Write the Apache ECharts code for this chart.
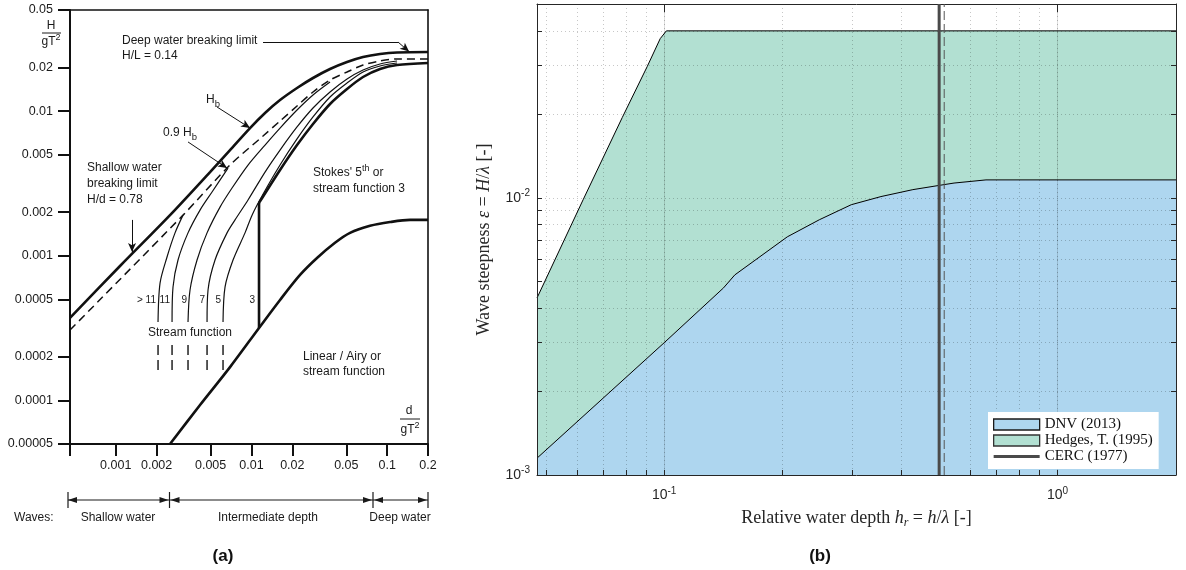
<!DOCTYPE html>
<html><head><meta charset="utf-8">
<script src="https://cdn.jsdelivr.net/npm/echarts@6/dist/echarts.min.js"></script>
<style>html,body{margin:0;padding:0;background:#fff}#c{width:1186px;height:570px}</style>
</head><body><div id="c"></div>
<script>
// ---------- Panel (a) : ticks ----------
const aXTicks  = [0.000461, 0.001, 0.002, 0.005, 0.01, 0.02, 0.05, 0.1, 0.2];
const aXLabels = [0.001, 0.002, 0.005, 0.01, 0.02, 0.05, 0.1, 0.2];
const aYTicks  = [0.00005, 0.0001, 0.0002, 0.0005, 0.001, 0.002, 0.005, 0.01, 0.02, 0.05];

// ---------- Panel (a) : curves (d/gT^2 , H/gT^2) ----------
const hbX  = [0.00046, 0.001075, 0.002511, 0.004951, 0.006951, 0.009761, 0.01259, 0.01624, 0.02167, 0.02842, 0.03793, 0.05062, 0.06642, 0.0886, 0.1183, 0.2];
const hbY  = [0.000372, 0.00085, 0.00191, 0.00379, 0.00538, 0.00764, 0.00971, 0.01193, 0.01445, 0.01694, 0.01955, 0.02185, 0.02366, 0.02482, 0.02542, 0.02563];
const hb9X = [0.00046, 0.003131, 0.006951, 0.01217, 0.01624, 0.02167, 0.02842, 0.03793, 0.05062, 0.06642, 0.0886, 0.1183, 0.2];
const hb9Y = [0.000307, 0.00191, 0.00424, 0.00673, 0.00854, 0.01085, 0.01356, 0.01641, 0.01864, 0.02083, 0.0222, 0.02292, 0.02292];
const sfGt11X = [0.002049, 0.00212, 0.002387, 0.002734, 0.003131];
const sfGt11Y = [0.000349, 0.000648, 0.000981, 0.00144, 0.00191];
const sf11X = [0.002599, 0.002642, 0.002876, 0.003408, 0.004178, 0.005122, 0.006719];
const sf11Y = [0.000349, 0.000608, 0.000935, 0.00144, 0.00207, 0.00276, 0.00404];
const sf9X  = [0.003408, 0.003526, 0.003972, 0.004707, 0.005866, 0.007191, 0.009434, 0.01259, 0.01624, 0.02167, 0.02842, 0.03793];
const sf9Y  = [0.000349, 0.00058, 0.000935, 0.00144, 0.00217, 0.00294, 0.00424, 0.00583, 0.00764, 0.01018, 0.01293, 0.01589];
const sf7X  = [0.004707, 0.004786, 0.005389, 0.006607, 0.007567, 0.009434, 0.01259, 0.01624, 0.02167, 0.02842, 0.03793, 0.05062, 0.06642, 0.0886, 0.1183];
const sf7Y  = [0.000349, 0.00058, 0.000935, 0.00144, 0.00177, 0.00243, 0.00379, 0.00538, 0.00777, 0.01051, 0.01356, 0.01667, 0.01924, 0.02117, 0.0222];
const sf5X  = [0.006173, 0.006385, 0.007315, 0.008966, 0.0101, 0.01196, 0.01624, 0.02167, 0.02842, 0.03793, 0.05062, 0.06642, 0.0886, 0.1183];
const sf5Y  = [0.000349, 0.000608, 0.000935, 0.00144, 0.00191, 0.00259, 0.00424, 0.00642, 0.00911, 0.01252, 0.01564, 0.01864, 0.0205, 0.02151];
const st3VX = [0.01137, 0.01137];
const st3VY = [0.000317, 0.00232];
const st3X  = [0.01137, 0.01624, 0.02167, 0.02842, 0.03793, 0.05062, 0.06642, 0.0886, 0.1183, 0.2];
const st3Y  = [0.00232, 0.00392, 0.00583, 0.00815, 0.0112, 0.01422, 0.01721, 0.01955, 0.02083, 0.02151];
const linX  = [0.002511, 0.004178, 0.006951, 0.01137, 0.01624, 0.0228, 0.03041, 0.04127, 0.05325, 0.07477, 0.105, 0.1474, 0.2];
const linY  = [0.00005, 0.000093, 0.00017, 0.000317, 0.000495, 0.000737, 0.000965, 0.00123, 0.00144, 0.00161, 0.00171, 0.00177, 0.00177];
const sfTickX = [0.002049, 0.002599, 0.003408, 0.004707, 0.006173];
const sfTickY = [0.000242, 0.000162];
// annotation arrows: from (x,y) to (x,y), with or without arrowhead
const arrowFromX = [0.01217, 0.1202, 0.005574, 0.003408, 0.001318];
const arrowFromY = [0.03004, 0.03004, 0.01068, 0.00612, 0.00177];
const arrowToX   = [0.1202, 0.145, 0.009761, 0.006607, 0.001318];
const arrowToY   = [0.03004, 0.0258, 0.00764, 0.00404, 0.001062];
const arrowHead  = [false, true, true, true, true];

// ---------- Panel (b) ----------
const bXMajor = [0.1, 1];
const bXTicks = [0.05, 0.06, 0.07, 0.08, 0.09, 0.1, 0.2, 0.3, 0.4, 0.5, 0.6, 0.7, 0.8, 0.9, 1, 2];
const bYMajor = [0.001, 0.01];
const bYTicks = [0.001, 0.002, 0.003, 0.004, 0.005, 0.006, 0.007, 0.008, 0.009, 0.01, 0.02, 0.03, 0.04, 0.05];
const hedgesX = [0.0475, 0.0622, 0.0782, 0.0905, 0.0977, 0.1013, 2];
const hedgesY = [0.00435, 0.00983, 0.01945, 0.0297, 0.0375, 0.04, 0.04];
const dnvX = [0.0475, 0.1, 0.1415, 0.1512, 0.2056, 0.2479, 0.2989, 0.3557, 0.4287, 0.5035, 0.5455, 0.6577, 2];
const dnvY = [0.00115, 0.0030, 0.00473, 0.00527, 0.00723, 0.00833, 0.00944, 0.0101, 0.0107, 0.0111, 0.0113, 0.0116, 0.0116];
const cercX = 0.5;
const cercDashX = 0.515;
const seriesNames = ['DNV (2013)', 'Hedges, T. (1995)', 'CERC (1977)'];

// ---------- build ----------
const SANS = 'Liberation Sans, Arial, Helvetica, sans-serif';
const SERIF = 'Liberation Serif, Times New Roman, serif';
const BLUE = '#AED6EF', GREEN = '#B2E0D2';
const zip = (xs, ys) => xs.map((x, i) => [x, ys[i]]);
const fmtA = v => String(+(+v).toPrecision(6));

function aLine(xs, ys, width, dash, smooth) {
  return { type: 'line', xAxisIndex: 0, yAxisIndex: 0, data: zip(xs, ys), symbol: 'none', showSymbol: false,
    smooth: smooth === undefined ? 0.3 : smooth, silent: true, z: 3,
    lineStyle: { color: '#111', width: width, type: dash || 'solid', cap: 'butt' } };
}

const arrowData = arrowFromX.map((x, i) => [
  { coord: [x, arrowFromY[i]], symbol: 'none' },
  { coord: [arrowToX[i], arrowToY[i]], symbol: arrowHead[i] ? 'arrow' : 'none' }
]);

const seriesA = [
  Object.assign(aLine(hbX, hbY, 2.6), { markLine: { silent: true, symbolSize: [6, 9], label: { show: false },
      lineStyle: { color: '#111', width: 1, type: 'solid' }, data: arrowData, animation: false } }),
  aLine(hb9X, hb9Y, 1.5, [8, 5]),
  aLine(sfGt11X, sfGt11Y, 1.2),
  aLine(sf11X, sf11Y, 1.2),
  aLine(sf9X, sf9Y, 1.2),
  aLine(sf7X, sf7Y, 1.2),
  aLine(sf5X, sf5Y, 1.2),
  aLine(st3VX, st3VY, 2.6, 'solid', false),
  aLine(st3X, st3Y, 2.6),
  aLine(linX, linY, 2.6),
].concat(sfTickX.map(x => aLine([x, x], sfTickY, 1.4, [10, 5], false)));

const pow10 = v => '{b|10}{s|' + Math.round(Math.log10(v)) + '}';
const powRich = { b: { fontFamily: SANS, fontSize: 14, color: '#262626' },
                  s: { fontFamily: SANS, fontSize: 10, color: '#262626', padding: [0, 0, 9, 0] } };
const serifRich = {
  t: { fontFamily: SERIF, fontSize: 18, color: '#262626' },
  i: { fontFamily: SERIF, fontSize: 18, fontStyle: 'italic', color: '#262626' },
  sb: { fontFamily: SERIF, fontSize: 12, fontStyle: 'italic', color: '#262626', padding: [9, 0, 0, 0] }
};
const AX = '#262626';

const seriesB = [
  { name: seriesNames[1], type: 'line', xAxisIndex: 2, yAxisIndex: 2, data: zip(hedgesX, hedgesY), symbol: 'none',
    itemStyle: { color: GREEN }, lineStyle: { color: '#000', width: 1 },
    areaStyle: { color: GREEN, opacity: 1, origin: 'start' }, z: 2, silent: true },
  { name: seriesNames[0], type: 'line', xAxisIndex: 2, yAxisIndex: 2, data: zip(dnvX, dnvY), symbol: 'none',
    itemStyle: { color: BLUE }, lineStyle: { color: '#000', width: 1 },
    areaStyle: { color: BLUE, opacity: 1, origin: 'start' }, z: 2, silent: true },
  { name: seriesNames[2], type: 'line', xAxisIndex: 2, yAxisIndex: 2, data: [[cercX, 0.001], [cercX, 0.05]], symbol: 'none',
    itemStyle: { color: '#4a4a4a' }, lineStyle: { color: '#4a4a4a', width: 3 }, z: 5, silent: true },
  { name: 'dash', type: 'line', xAxisIndex: 2, yAxisIndex: 2, data: [[cercDashX, 0.001], [cercDashX, 0.05]], symbol: 'none',
    lineStyle: { color: '#555', width: 1, type: [9, 4] }, z: 5, silent: true }
];

const txt = (x, y, text, o) => ({ type: 'text', silent: true, z: 20, style: Object.assign({
  x: x, y: y, text: text, font: '12px ' + SANS, fill: '#1a1a1a', align: 'left', verticalAlign: 'middle' }, o || {}) });
const subRich = { n: { fontFamily: SANS, fontSize: 12, color: '#1a1a1a' },
                  b: { fontFamily: SANS, fontSize: 9.5, color: '#1a1a1a', padding: [8, 0, 0, 0] },
                  s: { fontFamily: SANS, fontSize: 9, color: '#1a1a1a', padding: [0, 0, 8, 0] } };
const ln = (x1, y1, x2, y2, w) => ({ type: 'line', silent: true, z: 20, shape: { x1, y1, x2, y2 }, style: { stroke: '#1a1a1a', lineWidth: w || 1.2 } });
const tri = pts => ({ type: 'polygon', silent: true, z: 20, shape: { points: pts }, style: { fill: '#1a1a1a' } });

const graphics = [
  txt(122, 41, 'Deep water breaking limit'),
  txt(122, 56, 'H/L = 0.14'),
  txt(206, 100, '{n|H}{b|b}', { rich: subRich }),
  txt(163, 133, '{n|0.9 H}{b|b}', { rich: subRich }),
  txt(87, 168, 'Shallow water'), txt(87, 184, 'breaking limit'), txt(87, 200, 'H/d = 0.78'),
  txt(313, 173, "{n|Stokes' 5}{s|th}{n| or}", { rich: subRich }),
  txt(313, 189, 'stream function 3'),
  txt(303, 357, 'Linear / Airy or'), txt(303, 372, 'stream function'),
  txt(148, 333, 'Stream function'),
  txt(156, 300, '> 11', { align: 'right', font: '10px ' + SANS }),
  txt(170, 300, '11', { align: 'right', font: '10px ' + SANS }),
  txt(187, 300, '9', { align: 'right', font: '10px ' + SANS }),
  txt(205, 300, '7', { align: 'right', font: '10px ' + SANS }),
  txt(221, 300, '5', { align: 'right', font: '10px ' + SANS }),
  txt(255, 300, '3', { align: 'right', font: '10px ' + SANS }),
  txt(51, 26, 'H', { align: 'center' }), ln(42, 33, 61, 33, 1), txt(51, 42, '{n|gT}{s|2}', { align: 'center', rich: subRich }),
  txt(409, 411, 'd', { align: 'center' }), ln(400, 419, 420, 419, 1), txt(410, 430, '{n|gT}{s|2}', { align: 'center', rich: subRich }),
  txt(14, 518, 'Waves:'), txt(118, 518, 'Shallow water', { align: 'center' }),
  txt(268, 518, 'Intermediate depth', { align: 'center' }), txt(400, 518, 'Deep water', { align: 'center' }),
  ln(68, 492, 68, 508), ln(169.5, 492, 169.5, 508), ln(373, 492, 373, 508), ln(428, 492, 428, 508),
  ln(68, 500, 428, 500),
  tri([[68, 500], [77, 497], [77, 503]]), tri([[168.5, 500], [159.5, 497], [159.5, 503]]),
  tri([[170.5, 500], [179.5, 497], [179.5, 503]]), tri([[372, 500], [363, 497], [363, 503]]),
  tri([[374, 500], [383, 497], [383, 503]]), tri([[427, 500], [418, 497], [418, 503]]),
  txt(223, 556, '(a)', { align: 'center', font: 'bold 17px ' + SANS, fill: '#111' }),
  txt(820, 556, '(b)', { align: 'center', font: 'bold 17px ' + SANS, fill: '#111' })
];

const aLabel = { fontFamily: SANS, fontSize: 12.5, color: '#1a1a1a', formatter: fmtA };

const option = {
  animation: false,
  backgroundColor: '#fff',
  grid: [
    { left: 70, top: 10, width: 358, height: 434, outerBoundsMode: 'none', containLabel: false },
    { left: 537, top: 4, width: 639, height: 471, outerBoundsMode: 'none', containLabel: false }
  ],
  xAxis: [
    { gridIndex: 0, type: 'log', min: 0.00046, max: 0.2, position: 'bottom',
      axisLine: { lineStyle: { color: '#111', width: 2 } },
      axisTick: { show: true, inside: false, length: 12, customValues: aXTicks, lineStyle: { color: '#111', width: 2 } },
      axisLabel: Object.assign({ customValues: aXLabels, margin: 15 }, aLabel),
      splitLine: { show: false }, minorTick: { show: false } },
    { gridIndex: 0, type: 'log', min: 0.00046, max: 0.2, position: 'top',
      axisLine: { show: true, lineStyle: { color: '#111', width: 1.6 } }, axisTick: { show: false },
      axisLabel: { show: false }, splitLine: { show: false } },
    { gridIndex: 1, type: 'log', min: 0.0475, max: 2, position: 'bottom', z: 3,
      axisLine: { lineStyle: { color: AX, width: 1 } },
      axisTick: { show: true, inside: true, length: 5, customValues: bXTicks, lineStyle: { color: AX, width: 1 } },
      axisLabel: { customValues: bXMajor, formatter: pow10, rich: powRich, margin: 11 },
      splitLine: { show: true, lineStyle: { color: 'rgba(0,0,0,0.28)', width: 0.8, type: [1, 3] } },
      name: '{t|Relative water depth }{i|h}{sb|r}{t| = }{i|h}{t|/}{i|λ}{t| [-]}',
      nameLocation: 'middle', nameGap: 33, nameTextStyle: { rich: serifRich } },
    { gridIndex: 1, type: 'log', min: 0.0475, max: 2, position: 'top', z: 3,
      axisLine: { show: true, lineStyle: { color: AX, width: 1 } },
      axisTick: { show: true, inside: true, length: 8, customValues: bXMajor, lineStyle: { color: AX, width: 1 } },
      axisLabel: { show: false },
      splitLine: { show: true, lineStyle: { color: 'rgba(0,0,0,0.13)', width: 1, type: 'solid' } } }
  ],
  yAxis: [
    { gridIndex: 0, type: 'log', min: 0.00005, max: 0.05, position: 'left',
      axisLine: { show: true, lineStyle: { color: '#111', width: 2 } },
      axisTick: { show: true, inside: false, length: 12, customValues: aYTicks, lineStyle: { color: '#111', width: 2 } },
      axisLabel: Object.assign({ customValues: aYTicks, margin: 17 }, aLabel),
      splitLine: { show: false }, minorTick: { show: false } },
    { gridIndex: 0, type: 'log', min: 0.00005, max: 0.05, position: 'right',
      axisLine: { show: true, lineStyle: { color: '#111', width: 1.6 } }, axisTick: { show: false },
      axisLabel: { show: false }, splitLine: { show: false } },
    { gridIndex: 1, type: 'log', min: 0.001, max: 0.05, position: 'left', z: 3,
      axisLine: { show: true, lineStyle: { color: AX, width: 1 } },
      axisTick: { show: true, inside: true, length: 5, customValues: bYTicks, lineStyle: { color: AX, width: 1 } },
      axisLabel: { customValues: bYMajor, formatter: pow10, rich: powRich, margin: 7 },
      splitLine: { show: true, lineStyle: { color: 'rgba(0,0,0,0.28)', width: 0.8, type: [1, 3] } },
      name: '{t|Wave steepness }{i|ε}{t| = }{i|H}{t|/}{i|λ}{t| [-]}',
      nameLocation: 'middle', nameRotate: 90, nameGap: 44, nameTextStyle: { rich: serifRich } },
    { gridIndex: 1, type: 'log', min: 0.001, max: 0.05, position: 'right', z: 3,
      axisLine: { show: true, lineStyle: { color: AX, width: 1 } },
      axisTick: { show: true, inside: true, length: 5, customValues: bYTicks, lineStyle: { color: AX, width: 1 } },
      axisLabel: { show: false },
      splitLine: { show: false } }
  ],
  legend: {
    show: true, left: 988, top: 412, orient: 'vertical', align: 'left',
    padding: [5, 6, 5, 5], itemGap: 1, itemWidth: 46, itemHeight: 11,
    backgroundColor: '#fff', borderWidth: 0, z: 10, selectedMode: false,
    textStyle: { fontFamily: SERIF, fontSize: 15, lineHeight: 15, color: '#111' },
    data: [
      { name: seriesNames[0], icon: 'rect', itemStyle: { color: BLUE, borderColor: '#1a1a1a', borderWidth: 1.3 } },
      { name: seriesNames[1], icon: 'rect', itemStyle: { color: GREEN, borderColor: '#333', borderWidth: 1.3 } },
      { name: seriesNames[2], icon: 'path://M0,0h46v3h-46z', itemStyle: { color: '#4a4a4a', borderWidth: 0 } }
    ]
  },
  graphic: graphics,
  series: seriesA.concat(seriesB)
};

const chart = echarts.init(document.getElementById('c'), null, { renderer: 'canvas' });
chart.setOption(option);
</script>
</body></html>
